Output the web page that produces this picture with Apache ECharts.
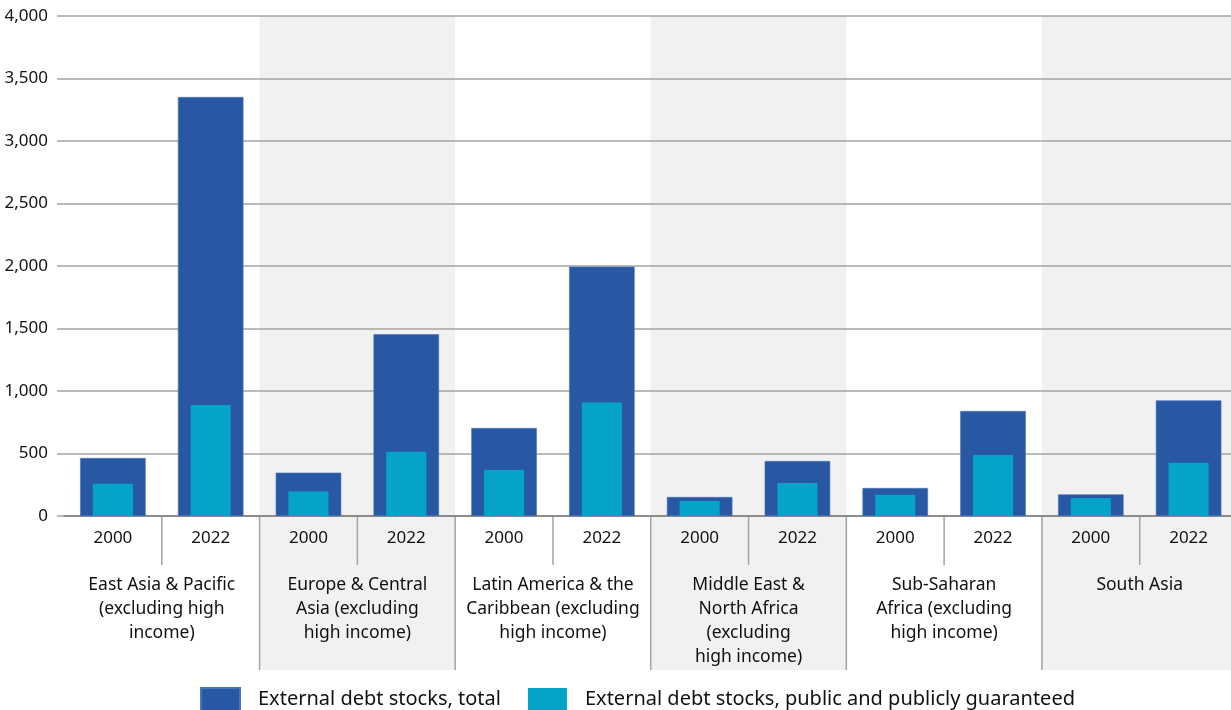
<!DOCTYPE html>
<html>
<head>
<meta charset="utf-8">
<script src="https://cdn.jsdelivr.net/npm/echarts@6/dist/echarts.min.js"></script>
<style>
html,body{margin:0;padding:0;background:#fff;}
#chart{width:1231px;height:710px;}
</style>
</head>
<body>
<div id="chart"></div>
<script>
const categories = ['2000','2022','2000','2022','2000','2022','2000','2022','2000','2022','2000','2022'];
const groups = [
  'East Asia & Pacific\n(excluding high\nincome)',
  'Europe & Central\nAsia (excluding\nhigh income)',
  'Latin America & the\nCaribbean (excluding\nhigh income)',
  'Middle East &\nNorth Africa\n(excluding\nhigh income)',
  'Sub-Saharan\nAfrica (excluding\nhigh income)',
  'South Asia'
];
const totalDebt = [464, 3352, 347, 1454, 704, 1995, 152, 440, 224, 840, 173, 925];
const ppgDebt   = [259,  888, 197,  515, 368,  909, 120, 264, 171, 488, 144, 427];
const seriesNames = ['External debt stocks, total', 'External debt stocks, public and publicly guaranteed'];
const yMax = 4000, yInterval = 500;

const FONT = 'Noto Sans';
const TXT = '#111111';
const GRIDC = '#a3a3a3';

const chart = echarts.init(document.getElementById('chart'), null, {renderer: 'canvas'});

function renderDecor(params, api) {
  const i = params.dataIndex;
  const base = api.coord([i, 0]);
  const top = api.coord([i, yMax]);
  const w = api.size([1, 0])[0];
  const x0 = base[0] - w / 2;
  const g = Math.floor(i / 2);
  const children = [];
  if (g % 2 === 1 && i % 2 === 0) {
    children.push({type: 'rect', shape: {x: x0, y: top[1], width: w * 2, height: base[1] - top[1] + 154},
      style: {fill: '#f1f1f1'}});
  }
  if (i % 2 === 1) {
    children.push({type: 'line', shape: {x1: x0, y1: base[1], x2: x0, y2: base[1] + 49},
      style: {stroke: GRIDC, lineWidth: 1.5}});
  } else if (i > 0) {
    children.push({type: 'line', shape: {x1: x0, y1: base[1], x2: x0, y2: base[1] + 154},
      style: {stroke: GRIDC, lineWidth: 1.5}});
  }
  return {type: 'group', children: children};
}

const option = {
  animation: false,
  textStyle: {fontFamily: FONT},
  grid: {left: 64, width: 1173.5, top: 16, bottom: 194, containLabel: false, outerBoundsMode: 'none'},
  legend: {
    data: seriesNames,
    left: 200, top: 687, padding: 0,
    icon: 'rect', itemWidth: 39, itemHeight: 23, itemGap: 27,
    textStyle: {fontFamily: FONT, fontSize: 20, color: TXT, padding: [0, 0, 0, 13]}
  },
  xAxis: [
    {type: 'category', data: categories, position: 'bottom',
      axisLine: {lineStyle: {color: '#8c8c8c', width: 2}},
      axisTick: {show: false},
      axisLabel: {margin: 14, fontSize: 17, color: TXT, fontFamily: FONT, interval: 0}},
    {type: 'category', data: categories, show: false},
    {type: 'category', data: groups, position: 'bottom',
      axisLine: {show: false}, axisTick: {show: false},
      axisLabel: {margin: 57, fontSize: 17.5, lineHeight: 24, color: TXT, fontFamily: FONT, interval: 0, align: 'center'}}
  ],
  yAxis: {
    type: 'value', min: 0, max: yMax, interval: yInterval,
    axisLine: {show: false},
    axisTick: {show: true, length: 7, lineStyle: {color: GRIDC, width: 1.5}},
    splitLine: {lineStyle: {color: GRIDC, width: 1.5}},
    axisLabel: {margin: 16, fontSize: 17, color: TXT, fontFamily: FONT,
      formatter: v => v.toLocaleString('en-US')}
  },
  series: [
    {type: 'custom', name: 'decor', xAxisIndex: 0, yAxisIndex: 0, z: -1, clip: false, silent: true,
      renderItem: renderDecor, data: categories.map((c, i) => [i, 0]), encode: {x: 0, y: 1}},
    {type: 'bar', name: seriesNames[0], xAxisIndex: 0, data: totalDebt, barWidth: '67%',
      itemStyle: {color: '#2857a4', borderColor: '#4a73b8', borderWidth: 0.6}},
    {type: 'bar', name: seriesNames[1], xAxisIndex: 1, data: ppgDebt, barWidth: '41%',
      itemStyle: {color: '#06a3c9'}}
  ]
};
chart.setOption(option);
</script>
</body>
</html>
